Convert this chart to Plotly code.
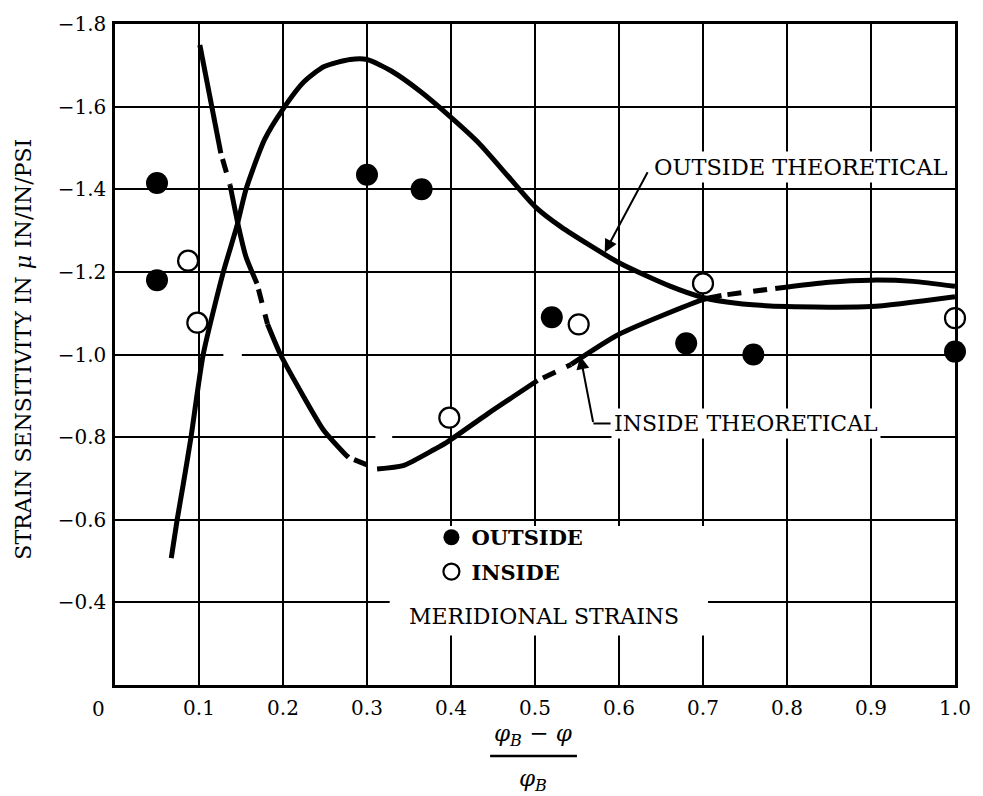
import plotly.graph_objects as go

# ---------------- data ----------------
outside_x = [0.05, 0.05, 0.30, 0.365, 0.52, 0.68, 0.76, 1.0]
outside_y = [-1.415, -1.18, -1.435, -1.40, -1.09, -1.027, -1.0, -1.007]

inside_x = [0.087, 0.098, 0.398, 0.552, 0.70, 1.0]
inside_y = [-1.227, -1.077, -0.847, -1.073, -1.172, -1.088]

# theoretical curves
out_th_x = [0.067, 0.074, 0.081, 0.0905, 0.105, 0.129, 0.145, 0.156, 0.178, 0.2, 0.225, 0.249,
            0.28, 0.3, 0.33, 0.364, 0.4, 0.433, 0.472, 0.5, 0.531, 0.6, 0.66, 0.7,
            0.74, 0.8, 0.9, 1.0]
out_th_y = [-0.507, -0.6, -0.683, -0.8, -1.0, -1.2, -1.31, -1.4, -1.52, -1.594, -1.66, -1.697,
            -1.714, -1.714, -1.685, -1.636, -1.574, -1.512, -1.422, -1.358, -1.309, -1.222,
            -1.166, -1.138, -1.124, -1.116, -1.116, -1.14]

in_th_x = [0.101, 0.126, 0.137, 0.147, 0.156, 0.169, 0.1815, 0.197, 0.2246, 0.248, 0.272, 0.278,
           0.312, 0.343, 0.38, 0.394, 0.444, 0.503, 0.543, 0.6, 0.7, 0.722, 0.786, 0.85, 0.9,
           0.95, 1.0]
in_th_y = [-1.749, -1.487, -1.41, -1.31, -1.236, -1.172, -1.074, -1.0, -0.898, -0.818, -0.763,
           -0.751, -0.723, -0.731, -0.77, -0.786, -0.857, -0.937, -0.976, -1.049, -1.133, -1.143,
           -1.16, -1.175, -1.18, -1.177, -1.165]
# style of each interval starting at the given point index ('s' solid, 'd' dashed)
in_th_style = ['s', 'd', 's', 's', 's', 'd', 's', 's', 's', 's', 's', 'd',
               's', 's', 's', 's', 's', 'd', 's', 's', 's', 'd', 's', 's', 's', 's']

x_ticks = [0.1, 0.2, 0.3, 0.4, 0.5, 0.6, 0.7, 0.8, 0.9, 1.0]
x_tick_text = ["0.1", "0.2", "0.3", "0.4", "0.5", "0.6", "0.7", "0.8", "0.9", "1.0"]
y_ticks = [-1.8, -1.6, -1.4, -1.2, -1.0, -0.8, -0.6, -0.4]
y_tick_text = ["\u22121.8", "\u22121.6", "\u22121.4", "\u22121.2", "\u22121.0", "\u22120.8", "\u22120.6", "\u22120.4"]

FONT = "DejaVu Serif"
fig = go.Figure()

# outside theoretical
fig.add_trace(go.Scatter(x=out_th_x, y=out_th_y, mode="lines",
                         line=dict(color="black", width=5, shape="spline", smoothing=0.6),
                         showlegend=False, hoverinfo="skip"))

# inside theoretical, split into solid / dashed runs
runs = []
start = 0
for i in range(1, len(in_th_style) + 1):
    if i == len(in_th_style) or in_th_style[i] != in_th_style[start]:
        runs.append((start, i, in_th_style[start]))
        start = i
for a, b, st in runs:
    xs = in_th_x[a:b + 1]
    ys = in_th_y[a:b + 1]
    fig.add_trace(go.Scatter(x=xs, y=ys, mode="lines",
                             line=dict(color="black", width=5, shape="spline", smoothing=0.6,
                                       dash="solid" if st == 's' else "0px,6px,14px,6px"),
                             showlegend=False, hoverinfo="skip"))

fig.add_trace(go.Scatter(x=outside_x, y=outside_y, mode="markers", name="OUTSIDE", legendgroup="a",
                         marker=dict(symbol="circle", size=22, color="black", line=dict(width=0)),
                         cliponaxis=False))
fig.add_trace(go.Scatter(x=inside_x, y=inside_y, mode="markers", name="INSIDE", legendgroup="b",
                         marker=dict(symbol="circle", size=20, color="white", line=dict(width=2.2, color="black")),
                         cliponaxis=False))

shapes = [
    # white gap around legend / caption
    dict(type="rect", xref="x", yref="y", x0=0.327, x1=0.706, y0=-0.585, y1=-0.32,
         fillcolor="white", line=dict(width=0), layer="between"),
    # white gap around the inside-theoretical caption
    dict(type="rect", xref="x", yref="y", x0=0.588, x1=0.94, y0=-0.855, y1=-0.812,
         fillcolor="white", line=dict(width=0), layer="between"),
    # small gaps in gridlines
    dict(type="rect", xref="x", yref="y", x0=0.129, x1=0.151, y0=-1.01, y1=-0.99,
         fillcolor="white", line=dict(width=0), layer="between"),
    dict(type="rect", xref="x", yref="y", x0=0.31, x1=0.33, y0=-0.81, y1=-0.79,
         fillcolor="white", line=dict(width=0), layer="between"),
    # elbow of inside-theoretical leader
    dict(type="line", xref="x", yref="y", x0=0.5695, x1=0.59, y0=-0.833, y1=-0.833,
         line=dict(color="black", width=2)),
    # fraction bar of x-axis title
    dict(type="line", xref="paper", yref="paper", x0=(495 - 115) / 851, x1=(583 - 115) / 851,
         y0=-0.1076, y1=-0.1076, line=dict(color="black", width=2.5)),
]

annotations = [
    dict(x=0.638, y=-1.455, xref="x", yref="y", text="OUTSIDE THEORETICAL", showarrow=False,
         xanchor="left", yanchor="middle", font=dict(family=FONT, size=22.5, color="black"),
         bgcolor="white", borderpad=2),
    dict(x=0.583, y=-1.247, xref="x", yref="y", ax=0.635, ay=-1.445, axref="x", ayref="y",
         text="", showarrow=True, arrowhead=2, arrowsize=1.3, arrowwidth=2, arrowcolor="black"),
    dict(x=0.59, y=-0.833, xref="x", yref="y", text="INSIDE THEORETICAL", showarrow=False,
         xanchor="left", yanchor="middle", font=dict(family=FONT, size=22, color="black"),
         bgcolor="white", borderpad=2),
    dict(x=0.554, y=-0.996, xref="x", yref="y", ax=0.5695, ay=-0.833, axref="x", ayref="y",
         text="", showarrow=True, arrowhead=2, arrowsize=1.3, arrowwidth=2, arrowcolor="black"),
    dict(x=0.511, y=-0.367, xref="x", yref="y", text="MERIDIONAL STRAINS", showarrow=False,
         xanchor="center", yanchor="middle", font=dict(family=FONT, size=22, color="black")),
    dict(x=0, y=0, xref="paper", yref="paper", text="0", showarrow=False, xanchor="center",
         yanchor="top", xshift=-17, yshift=-10, font=dict(family=FONT, size=20, color="black")),
    dict(x=-0.109, y=0.508, xref="paper", yref="paper", text="STRAIN SENSITIVITY IN <i>\u03bc</i> IN/IN/PSI",
         showarrow=False, textangle=-90, xanchor="center", yanchor="middle",
         font=dict(family=FONT, size=22, color="black")),
    dict(x=0.498, y=-0.101, xref="paper", yref="paper", text="<i>\u03c6<sub>B</sub></i> \u2212 <i>\u03c6</i>",
         showarrow=False, xanchor="center", yanchor="bottom", font=dict(family=FONT, size=23, color="black")),
    dict(x=0.498, y=-0.1435, xref="paper", yref="paper", text="<i>\u03c6<sub>B</sub></i>",
         showarrow=False, xanchor="center", yanchor="middle", font=dict(family=FONT, size=23, color="black")),
]

fig.update_layout(
    width=983, height=796,
    margin=dict(l=115, r=17, t=16, b=111),
    paper_bgcolor="white", plot_bgcolor="white",
    shapes=shapes, annotations=annotations,
    showlegend=True,
    legend=dict(x=0.3767, y=0.254, xanchor="left", yanchor="top", bgcolor="rgba(0,0,0,0)",
                font=dict(family=FONT, size=21, color="black", weight="bold"),
                traceorder="grouped", tracegroupgap=4),
    xaxis=dict(range=[0, 1.0], tickvals=x_ticks, ticktext=x_tick_text, showgrid=True,
               gridcolor="black", gridwidth=2, zeroline=False, showline=True, mirror=True,
               linecolor="black", linewidth=2.5, ticks="", ticklabelstandoff=3,
               tickfont=dict(family=FONT, size=20, color="black")),
    yaxis=dict(range=[-0.2, -1.8], tickvals=y_ticks, ticktext=y_tick_text, showgrid=True,
               gridcolor="black", gridwidth=2, zeroline=False, showline=True, mirror=True,
               linecolor="black", linewidth=2.5, ticks="", ticklabelstandoff=2,
               tickfont=dict(family=FONT, size=20, color="black")),
)

fig.write_html("out.html")
